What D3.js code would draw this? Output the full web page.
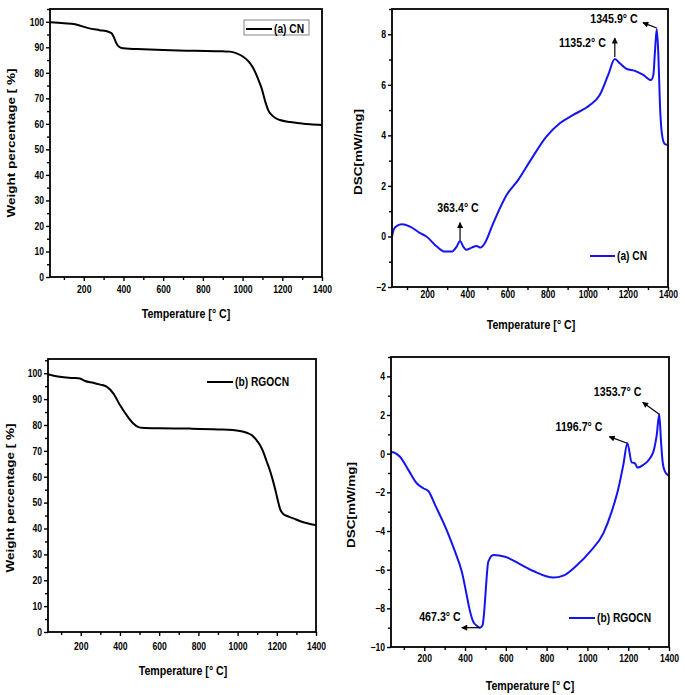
<!DOCTYPE html>
<html><head><meta charset="utf-8">
<script src="https://cdn.jsdelivr.net/npm/d3@7"></script>
<style>body{margin:0;background:#fff} svg{display:block}</style>
</head><body>
<svg id="c" width="685" height="695"></svg>
<script>
// ---------- DATA ----------
const tgaCnTemp   = [30, 100, 156, 223, 280, 324, 340, 350, 365, 378, 399, 500, 600, 760, 900, 936, 970, 1003, 1030, 1054, 1075, 1096, 1115, 1129, 1146, 1165, 1188, 1240, 1289, 1340, 1400];
const tgaCnWeight = [99.8, 99.4, 99.0, 97.5, 96.7, 96.1, 95.5, 94.2, 91.5, 90.2, 89.6, 89.2, 88.9, 88.6, 88.4, 88.3, 87.6, 86.3, 84.5, 81.8, 78.2, 73.9, 68.5, 65.4, 63.5, 62.3, 61.5, 60.7, 60.2, 59.8, 59.6];

const dscCnTemp = [25, 35, 50, 73, 115, 165, 198, 248, 289, 322, 347, 364, 380, 394, 422, 447, 466, 487, 529, 596, 654, 711, 794, 861, 928, 1011, 1060, 1102, 1135, 1160, 1193, 1235, 1277, 1315, 1327, 1335, 1344, 1352, 1360, 1373, 1385, 1400];
const dscCnValue = [0.0, 0.3, 0.42, 0.48, 0.39, 0.13, -0.01, -0.40, -0.60, -0.60, -0.40, -0.18, -0.40, -0.53, -0.44, -0.38, -0.44, -0.27, 0.52, 1.64, 2.24, 2.96, 3.95, 4.48, 4.81, 5.2, 5.6, 6.39, 7.02, 6.85, 6.63, 6.55, 6.39, 6.19, 6.39, 7.31, 8.21, 7.18, 5.2, 3.89, 3.65, 3.62];

const tgaRgTemp   = [33, 94, 160, 196, 222, 264, 300, 332, 366, 400, 434, 468, 495, 511, 600, 757, 900, 1012, 1050, 1072, 1095, 1114, 1130, 1148, 1165, 1180, 1195, 1208, 1218, 1233, 1260, 1284, 1340, 1400];
const tgaRgWeight = [99.6, 98.6, 98.2, 98.0, 97.0, 96.3, 95.6, 94.8, 92.2, 87.7, 83.8, 80.6, 79.2, 78.9, 78.7, 78.6, 78.3, 77.7, 76.9, 76.1, 74.3, 72.3, 69.8, 66.0, 62.4, 58.6, 54.2, 50.0, 47.3, 45.6, 44.6, 43.9, 42.3, 41.3];

const dscRgTemp  = [37, 60, 81, 122, 163, 195, 220, 253, 310, 351, 384, 408, 420, 440, 460, 473, 485, 494, 500, 514, 539, 596, 678, 735, 833, 882, 947, 1013, 1078, 1119, 1152, 1176, 1196, 1217, 1233, 1245, 1274, 1307, 1326, 1340, 1352, 1361, 1369, 1380, 1400];
const dscRgValue = [0.10, 0.02, -0.16, -0.84, -1.53, -1.79, -1.93, -2.65, -3.95, -5.07, -6.1, -7.31, -7.95, -8.69, -8.92, -9.0, -8.9, -8.17, -7.3, -5.59, -5.24, -5.33, -5.76, -6.07, -6.41, -6.31, -5.79, -5.07, -4.12, -3.0, -1.79, -0.58, 0.54, -0.45, -0.5, -0.72, -0.58, -0.24, 0.19, 0.97, 2.04, 0.62, -0.45, -0.93, -1.15];

const xTicksMajor = [200, 400, 600, 800, 1000, 1200, 1400];
const xTicksMinor = [100, 300, 500, 700, 900, 1100, 1300];
const tgaYTicks   = [0, 10, 20, 30, 40, 50, 60, 70, 80, 90, 100];
const tgaYMinor   = [5, 15, 25, 35, 45, 55, 65, 75, 85, 95, 105];
const dscCnYTicks = [-2, 0, 2, 4, 6, 8];
const dscCnYMinor = [-1, 1, 3, 5, 7, 9];
const dscRgYTicks = [-10, -8, -6, -4, -2, 0, 2, 4];
const dscRgYMinor = [-9, -7, -5, -3, -1, 1, 3, 5];

const legendLabels = ["(a) CN", "(a) CN", "(b) RGOCN", "(b) RGOCN"];
const xTitle = "Temperature [° C]";
const tgaTitle = "Weight percentage [ %]";
const dscTitle = "DSC[mW/mg]";

// annotations: label, arrow start (x0,y0) -> end (x1,y1), label centre (lx,ly) in data units
const dscCnNotes = [
  {label: "363.4° C",  x0: 364,  y0: -0.15, x1: 364,  y1: 0.55, lx: 354,  ly: 1.13},
  {label: "1135.2° C", x0: 1135, y0: 7.1,   x1: 1135, y1: 7.85, lx: 974,  ly: 7.67},
  {label: "1345.9° C", x0: 1344, y0: 8.25,  x1: 1275, y1: 8.46, lx: 1131, ly: 8.63}
];
const dscRgNotes = [
  {label: "1353.7° C", x0: 1352, y0: 2.04, x1: 1271, y1: 2.66, lx: 1148, ly: 3.24},
  {label: "1196.7° C", x0: 1196, y0: 0.54, x1: 1107, y1: 0.88, lx: 959,  ly: 1.40},
  {label: "467.3° C",  x0: 474,  y0: -9.0, x1: 384,  y1: -9.0, lx: 277,  ly: -8.43}
];

// ---------- DRAW ----------
const FONT = "'Liberation Sans', Arial, Helvetica, sans-serif";
const SX = 0.82;
const svg = d3.select("#c");
const defs = svg.append("defs");
defs.append("marker").attr("id", "ah").attr("viewBox", "0 0 10 10").attr("refX", 9).attr("refY", 5)
  .attr("markerWidth", 7).attr("markerHeight", 6).attr("markerUnits", "userSpaceOnUse").attr("orient", "auto")
  .append("path").attr("d", "M0,0 L10,5 L0,10 Z").attr("fill", "#000");

function hText(g, x, y, txt, size, anchor) {
  return g.append("text").attr("transform", `translate(${x},${y}) scale(${SX},1)`)
    .attr("text-anchor", anchor || "middle").attr("dy", "0.35em")
    .style("font-family", FONT).style("font-weight", "bold").style("font-size", size + "px")
    .attr("fill", "#000").text(txt);
}

const panels = [
  {temp: tgaCnTemp, val: tgaCnWeight, color: "#000", l: 50, r: 322, t: 9, b: 277, xd: [30, 1400], yd: [0, 105],
   yt: tgaYTicks, ym: tgaYMinor, ytitle: tgaTitle, ytx: 11, yty: 143, xtx: 186, xty: 313, xlabOff: 14,
   leg: {x1: 246, x2: 272, y: 29, box: [244, 20, 65, 15]}, label: legendLabels[0], notes: []},
  {temp: dscCnTemp, val: dscCnValue, color: "#1414f0", l: 392, r: 668, t: 9, b: 287, xd: [25, 1400], yd: [-2, 9],
   yt: dscCnYTicks, ym: dscCnYMinor, ytitle: dscTitle, ytx: 358, yty: 152, xtx: 531, xty: 324, xlabOff: 9,
   leg: {x1: 590, x2: 615, y: 256}, label: legendLabels[1], notes: dscCnNotes},
  {temp: tgaRgTemp, val: tgaRgWeight, color: "#000", l: 48, r: 316, t: 359, b: 632, xd: [33, 1400], yd: [0, 105.5],
   yt: tgaYTicks, ym: tgaYMinor, ytitle: tgaTitle, ytx: 10, yty: 498, xtx: 183, xty: 670, xlabOff: 16,
   leg: {x1: 207, x2: 233, y: 382}, label: legendLabels[2], notes: []},
  {temp: dscRgTemp, val: dscRgValue, color: "#1414f0", l: 391, r: 669, t: 357, b: 647, xd: [37, 1400], yd: [-10, 5],
   yt: dscRgYTicks, ym: dscRgYMinor, ytitle: dscTitle, ytx: 351, yty: 505, xtx: 530, xty: 685, xlabOff: 13,
   leg: {x1: 569, x2: 595, y: 618}, label: legendLabels[3], notes: dscRgNotes}
];

panels.forEach(p => {
  const g = svg.append("g");
  const x = d3.scaleLinear().domain(p.xd).range([p.l, p.r]);
  const y = d3.scaleLinear().domain(p.yd).range([p.b, p.t]);

  // axes
  const ax = g.append("g").attr("transform", `translate(0,${p.b})`)
    .call(d3.axisBottom(x).tickValues(xTicksMajor).tickSize(4).tickPadding(p.xlabOff - 9).tickFormat(d3.format("d")));
  const axm = g.append("g").attr("transform", `translate(0,${p.b})`)
    .call(d3.axisBottom(x).tickValues(xTicksMinor).tickSize(3).tickFormat(""));
  const ay = g.append("g").attr("transform", `translate(${p.l},0)`)
    .call(d3.axisLeft(y).tickValues(p.yt).tickSize(4).tickFormat(d3.format("d")));
  const aym = g.append("g").attr("transform", `translate(${p.l},0)`)
    .call(d3.axisLeft(y).tickValues(p.ym).tickSize(3).tickFormat(""));
  [ax, axm, ay, aym].forEach(a => {
    a.select(".domain").remove();
    a.selectAll("line").attr("stroke", "#000").attr("stroke-width", 1.4);
  });
  ax.selectAll("text").attr("transform", `scale(${SX},1)`)
    .style("font-family", FONT).style("font-weight", "bold").style("font-size", "10.5px").attr("fill", "#000");
  ay.selectAll("text").attr("x", null).attr("transform", `translate(-6,0) scale(${SX},1)`)
    .style("font-family", FONT).style("font-weight", "bold").style("font-size", "10.5px").attr("fill", "#000");

  // curve
  const line = d3.line().x(i => x(p.temp[i])).y(i => y(p.val[i])).curve(d3.curveMonotoneX);
  g.append("path").attr("d", line(d3.range(p.temp.length)))
    .attr("fill", "none").attr("stroke", p.color).attr("stroke-width", 2).attr("stroke-linejoin", "round");

  // frame
  g.append("rect").attr("x", p.l).attr("y", p.t).attr("width", p.r - p.l).attr("height", p.b - p.t)
    .attr("fill", "none").attr("stroke", "#000").attr("stroke-width", 1.8);

  // titles
  hText(g, p.xtx, p.xty, xTitle, 13);
  g.append("text").attr("transform", `translate(${p.ytx},${p.yty}) scale(${SX},1) rotate(-90)`)
    .attr("text-anchor", "middle").attr("dy", "0.35em")
    .style("font-family", FONT).style("font-weight", "bold").style("font-size", "13.5px")
    .attr("fill", "#000").text(p.ytitle);

  // legend
  if (p.leg.box) {
    g.append("rect").attr("x", p.leg.box[0]).attr("y", p.leg.box[1]).attr("width", p.leg.box[2]).attr("height", p.leg.box[3])
      .attr("fill", "#fff").attr("stroke", "#666").attr("stroke-width", 0.8);
  }
  g.append("line").attr("x1", p.leg.x1).attr("x2", p.leg.x2).attr("y1", p.leg.y).attr("y2", p.leg.y)
    .attr("stroke", p.color).attr("stroke-width", 2);
  hText(g, p.leg.x2 + 2, p.leg.y, p.label, 12.5, "start").style("font-weight", "600");

  // annotations
  p.notes.forEach(n => {
    g.append("line").attr("x1", x(n.x0)).attr("y1", y(n.y0)).attr("x2", x(n.x1)).attr("y2", y(n.y1))
      .attr("stroke", "#000").attr("stroke-width", 1.2).attr("marker-end", "url(#ah)");
    hText(g, x(n.lx), y(n.ly), n.label, 13);
  });
});
</script>
</body></html>
